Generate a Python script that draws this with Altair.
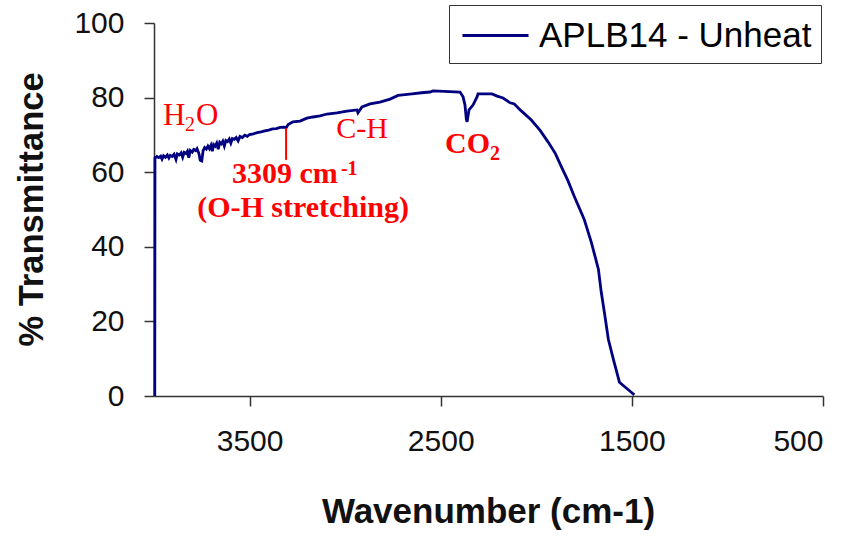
import altair as alt
import pandas as pd

# FTIR spectrum, APLB14 unheated sample
wavenumber = [
    3996, 3995, 3985, 3975, 3965, 3958, 3950, 3940, 3930, 3922, 3915, 3905,
    3895, 3885, 3878, 3868, 3858, 3850, 3842, 3832, 3825, 3818, 3810, 3800,
    3792, 3782, 3775, 3765, 3758, 3750, 3743, 3735, 3726, 3718, 3710, 3702,
    3695, 3688, 3680, 3672, 3664, 3656, 3648, 3640, 3632, 3624, 3615, 3606,
    3598, 3590, 3580, 3570, 3560, 3550, 3538, 3525, 3512, 3500, 3480, 3460,
    3440, 3420, 3400, 3380, 3360, 3340, 3320, 3309, 3298, 3273, 3236, 3200,
    3168, 3131, 3095, 3043, 2990, 2938, 2933, 2912, 2870, 2818, 2765, 2723,
    2650, 2600, 2556, 2540, 2399, 2383, 2373, 2366, 2362, 2358, 2352, 2331,
    2310, 2305, 2232, 2205, 2174, 2137, 2115, 2080, 2026, 1980, 1937, 1900,
    1869, 1835, 1801, 1749, 1712, 1675, 1660, 1644, 1623, 1597, 1565, 1503,
    1487,
]
transmittance = [
    0.0, 63.8, 64.2, 63.9, 64.3, 63.5, 64.4, 64.0, 64.6, 63.8, 64.5, 64.2,
    64.8, 63.4, 64.9, 64.6, 65.2, 64.0, 65.3, 65.0, 65.6, 63.9, 65.8, 65.4,
    66.1, 65.8, 66.3, 65.0, 63.2, 63.0, 65.8, 66.6, 66.2, 67.0, 66.3, 67.2,
    65.6, 67.4, 67.0, 67.8, 66.2, 68.0, 67.6, 68.3, 67.0, 68.5, 68.2, 68.9,
    67.8, 69.0, 68.8, 69.3, 68.4, 69.6, 69.3, 69.9, 69.6, 70.1, 70.3, 70.6,
    70.8, 71.1, 71.3, 71.6, 71.7, 72.0, 72.1, 71.9, 72.8, 73.5, 73.7, 74.5,
    74.8, 75.1, 75.6, 75.9, 76.4, 76.7, 75.9, 77.5, 78.3, 78.8, 79.6, 80.6,
    81.0, 81.3, 81.5, 81.8, 81.5, 80.2, 78.0, 74.2, 73.5, 74.8, 76.7, 78.0,
    80.2, 81.0, 81.0, 80.4, 79.9, 78.6, 78.3, 76.5, 74.0, 71.2, 68.0, 65.0,
    61.5, 57.8, 53.5, 47.3, 41.2, 34.0, 27.8, 22.5, 15.2, 9.9, 3.7, 1.0,
    0.3,
]
series_name = "APLB14 - Unheat"

x_ticks = [3500, 2500, 1500, 500]
y_ticks = [0, 20, 40, 60, 80, 100]

spectrum = pd.DataFrame({
    "wavenumber": wavenumber,
    "transmittance": transmittance,
    "series": series_name,
})

RED = "#FF0000"
SERIF = "Liberation Serif"
SANS = "Liberation Sans"

x_scale = alt.Scale(domain=[4000, 500], nice=False, zero=False)
y_scale = alt.Scale(domain=[0, 100], nice=False)

line = alt.Chart(spectrum).mark_line(strokeWidth=2.8).encode(
    x=alt.X(
        "wavenumber:Q",
        scale=x_scale,
        axis=alt.Axis(
            values=x_ticks,
            format="d",
            title="Wavenumber (cm-1)",
            titleFontSize=35,
            titleX=334,
            titleY=126,
            titleBaseline="alphabetic",
        ),
    ),
    y=alt.Y(
        "transmittance:Q",
        scale=y_scale,
        axis=alt.Axis(
            values=y_ticks,
            format="d",
            title="% Transmittance",
            titleFontSize=34.5,
            titleX=-122,
            titleY=186,
            titleAngle=-90,
            titleBaseline="middle",
        ),
    ),
    color=alt.Color(
        "series:N",
        scale=alt.Scale(range=["#000080"]),
        legend=alt.Legend(
            title=None,
            orient="none",
            legendX=295,
            legendY=-18,
            symbolType="M-1.65,0H1.65",
            symbolSize=1600,
            symbolOffset=16,
            symbolStrokeWidth=2.8,
            labelFontSize=35,
            labelFont=SANS,
            labelColor="#000000",
            labelOffset=22,
            labelLimit=1000,
            padding=9,
            strokeColor="#333333",
            fillColor="#FFFFFF",
        ),
    ),
)


def label(text, w, t, size, bold=False, align="left"):
    df = pd.DataFrame({"wavenumber": [w], "transmittance": [t], "text": [text]})
    return alt.Chart(df).mark_text(
        font=SERIF,
        fontSize=size,
        fontWeight="bold" if bold else "normal",
        color=RED,
        align=align,
        baseline="alphabetic",
    ).encode(
        x=alt.X("wavenumber:Q", scale=x_scale),
        y=alt.Y("transmittance:Q", scale=y_scale),
        text="text:N",
    )


annotations = [
    label("H", 3953, 72.6, 31),
    label("2", 3838, 71.0, 20),
    label("O", 3780, 72.6, 31),
    label("C-H", 2912, 69.2, 30, align="center"),
    label("CO", 2477, 65.1, 30, bold=True),
    label("2", 2242, 63.4, 20, bold=True),
    label("3309 cm", 3592, 57.0, 30, bold=True),
    label("-1", 3022, 59.2, 20, bold=True),
    label("(O-H stretching)", 3220, 47.9, 30, bold=True, align="center"),
]

marker = pd.DataFrame({"wavenumber": [3309], "top": [71.8], "bottom": [63.3]})
oh_rule = alt.Chart(marker).mark_rule(color=RED, strokeWidth=2).encode(
    x=alt.X("wavenumber:Q", scale=x_scale),
    y=alt.Y("top:Q", scale=y_scale),
    y2="bottom:Q",
)

chart = alt.layer(line, oh_rule, *annotations).properties(
    width=669,
    height=373,
    autosize=alt.AutoSizeParams(type="none"),
    padding={"left": 154, "top": 23, "right": 32, "bottom": 140},
    background="#FFFFFF",
).configure_view(
    stroke=None,
).configure_axis(
    grid=False,
    domainColor="#333333",
    domainWidth=1.5,
    tickColor="#333333",
    tickWidth=1.5,
    tickSize=10,
    labelFont=SANS,
    labelFontSize=30,
    labelColor="#111111",
    labelPadding=20,
    titleFont=SANS,
    titleFontWeight="bold",
    titleColor="#111111",
)

chart.save("out.html", embed_options={"renderer": "svg", "actions": False})
